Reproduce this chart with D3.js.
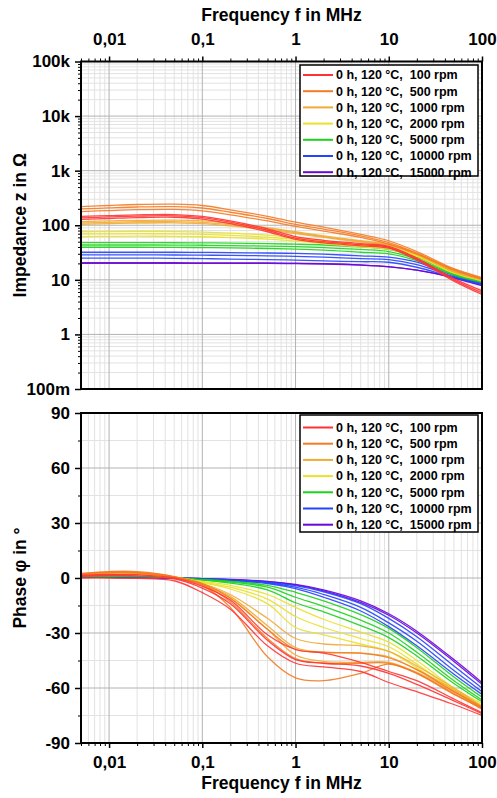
<!DOCTYPE html>
<html><head><meta charset="utf-8">
<script src="https://cdn.jsdelivr.net/npm/d3@7/dist/d3.min.js"></script>
<style>
body{margin:0;background:#fff}
text{font-family:"Liberation Sans",Arial,sans-serif;font-weight:bold;fill:#000}
</style></head><body>
<svg id="c" width="497" height="798"></svg>
<script>
// ---------- DATA ----------
const freqs = [0.005, 0.01, 0.02, 0.05, 0.1, 0.2, 0.5, 1, 2, 5, 10, 20, 50, 100];
const seriesLabels = ["0 h, 120 °C,  100 rpm","0 h, 120 °C,  500 rpm","0 h, 120 °C,  1000 rpm","0 h, 120 °C,  2000 rpm","0 h, 120 °C,  5000 rpm","0 h, 120 °C,  10000 rpm","0 h, 120 °C,  15000 rpm"];
const xTickValues = [0.01, 0.1, 1, 10, 100];
const xTickLabels = ["0,01", "0,1", "1", "10", "100"];
const zTickValues = [0.1, 1, 10, 100, 1000, 10000, 100000];
const zTickLabels = ["100m", "1", "10", "100", "1k", "10k", "100k"];
const phaseTickValues = [-90, -60, -30, 0, 30, 60, 90];
const phaseTickLabels = ["-90", "-60", "-30", "0", "30", "60", "90"];

// impedance |z| in Ohm, several measurements per speed
const z100rpm = [
  [145,150,155,157,145,120,86,62,53,46,41,25,10.5,6.3],
  [137,142,147,149,138,114,81,58,50,44,39.5,24,10,5.8],
  [128,133,138,140,130,107,76,55,47.5,42,38,23,9.5,5.4]];
const z500rpm = [
  [219,230,240,243,230,192,146,114,92,68,52,33,16,11],
  [199,208,216,219,207,173,133,104,85,64,48,31,15.5,10.6],
  [178,186,193,195,184,155,120,95,78,60,45,30,15,10.3]];
const z1000rpm = [
  [117,120,123,124,120,108,90,76,64,52,45,30,14.5,10.4],
  [110,113,116,117,113,102,86,73,62,50.5,44,29.5,14.2,10.2],
  [104,107,110,111,107,97,82,70,60,49,43,29,14,10]];
const z2000rpm = [
  [76,76.5,77,76.5,75,72,66,59,52,44,40,28,13.8,10],
  [69,69.5,70,69.5,68,65.5,60.5,55,49,42,38,27.5,13.5,9.8],
  [62,62.5,63,62.5,61.5,59.5,55.5,51,46,40,36.5,27,13.2,9.6]];
const z5000rpm = [
  [48,48,48,47.8,47.5,47,46,45,43.5,40,36,26,13,9.6],
  [43.5,43.5,43.5,43.3,43,42.5,41.5,40.5,39,36,33,24,12.6,9.3],
  [39.5,39.5,39.5,39.3,39,38.5,37.5,36.5,35,32,30,22.5,12.2,9]];
const z10000rpm = [
  [32,32,32,32,31.8,31.5,31,30.5,29.5,27.5,26,21,12,8.8],
  [28.6,28.6,28.6,28.5,28.3,28,27.5,27,26,24.5,23.5,19,11.5,8.5],
  [25,25,25,24.8,24.5,24,23.5,23,22.2,21.5,21,17,11,8.2]];
const z15000rpm = [
  [20,20,20,20,20,20,20,19.8,19.5,18.6,17.3,15,11,8],
  [20.6,20.6,20.6,20.6,20.5,20.5,20.4,20.2,19.8,18.8,17.5,15,10.8,7.8]];

// phase in degrees
const p100rpm = [
  [1.5,2,1.8,0,-4.5,-12,-31,-39,-41,-46,-51,-56,-66,-73.5],
  [1,1.5,1.2,-0.5,-5.5,-14,-34,-44.5,-46.5,-48,-52,-58,-67,-74],
  [0,0,-0.2,-1.5,-8,-17,-37,-46.5,-48.5,-51,-57,-62,-69,-75]];
const p500rpm = [
  [2.5,3.5,3.5,0.8,-4,-16,-43,-54.5,-56,-52,-47,-52,-63,-71.5],
  [2.3,3.2,3,0.6,-3.5,-13,-33,-44,-46.5,-46.5,-46.5,-52,-63.5,-71],
  [2.2,3,2.8,0.5,-3,-11,-28,-39,-40.5,-41,-43.5,-50,-62,-70.5]];
const p1000rpm = [
  [2,2.7,2.5,0.5,-3,-9,-22,-33,-36,-37,-40,-48,-60,-70],
  [2.1,2.9,2.7,0.5,-3.3,-10,-26,-38,-40.5,-41,-43,-50,-61,-70.5],
  [2.2,3,2.8,0.5,-3.6,-11,-28,-42,-45.5,-46,-46,-51.5,-62,-71]];
const p2000rpm = [
  [1.5,1.8,1.6,0.3,-1.8,-4,-9,-16,-22.5,-29.5,-35,-45,-60,-68.5],
  [1.6,2,1.8,0.3,-2.2,-5,-11.5,-21,-27,-33,-37.5,-47,-61,-69.5],
  [1.8,2.2,2,0.3,-2.6,-6,-14,-27,-31,-36,-40,-49,-62,-70]];
const p5000rpm = [
  [0.8,0.9,0.8,0.2,-0.8,-1.8,-4,-7.8,-12.5,-20,-27.5,-38,-54,-65],
  [1,1.1,1,0.2,-1,-2.2,-5,-10.5,-15.5,-23,-30,-40.5,-56,-66.5],
  [1.1,1.3,1.1,0.2,-1.2,-2.8,-6.5,-13.5,-18.5,-26,-32.5,-42.5,-57.5,-67.5]];
const p10000rpm = [
  [0.4,0.4,0.3,0,-0.4,-1,-2.2,-4.2,-7.5,-14,-22,-32,-48,-60],
  [0.5,0.5,0.4,0,-0.5,-1.2,-2.6,-5,-9,-16,-24.5,-34.5,-50.5,-62],
  [0.6,0.6,0.5,0,-0.6,-1.4,-3,-5.8,-10.5,-18,-26.5,-37,-52.5,-63.5]];
const p15000rpm = [
  [0.3,0.3,0.2,0,-0.3,-0.8,-1.8,-3.5,-6.5,-12.5,-19.5,-29,-44.5,-57],
  [0.3,0.3,0.2,0,-0.3,-0.9,-2,-3.8,-7,-13.3,-20.3,-30,-45.5,-58]];

const impedanceGroups = [z100rpm, z500rpm, z1000rpm, z2000rpm, z5000rpm, z10000rpm, z15000rpm];
const phaseGroups = [p100rpm, p500rpm, p1000rpm, p2000rpm, p5000rpm, p10000rpm, p15000rpm];

// styles (separate)
const colors = ["#ff3333","#f57a24","#f0ab35","#e9e12a","#1bd11b","#2343ff","#6a06d6"];

// ---------- CHART ----------
const svg = d3.select("#c");
const L = 81, R = 482;
const x = d3.scaleLog().domain([0.005, 100]).range([L, R]);
const yZ = d3.scaleLog().domain([0.1, 1e5]).range([389, 61.5]);
const yP = d3.scaleLinear().domain([-90, 90]).range([743, 413]);

function minorX() {
  const v = [];
  for (let d = -3; d <= 1; d++) for (let m = 2; m <= 9; m++) {
    const f = m * Math.pow(10, d);
    if (f >= 0.005 && f <= 100) v.push(f);
  }
  return v;
}
function minorLog(lo, hi) {
  const v = [];
  for (let d = Math.round(Math.log10(lo)); d < Math.round(Math.log10(hi)); d++)
    for (let m = 2; m <= 9; m++) v.push(m * Math.pow(10, d));
  return v;
}
const xMinor = minorX();

function panel(y, top, bottom, yMajor, yMinor, groups, yLabels, yTitle, clipId) {
  const g = svg.append("g");
  const grid = g.append("g");
  grid.selectAll(".vxm").data(xMinor).join("line")
    .attr("x1", d => x(d)).attr("x2", d => x(d)).attr("y1", top).attr("y2", bottom)
    .attr("stroke", "#e2e2e2").attr("stroke-width", 1);
  grid.selectAll(".hym").data(yMinor).join("line")
    .attr("x1", L).attr("x2", R).attr("y1", d => y(d)).attr("y2", d => y(d))
    .attr("stroke", "#e2e2e2").attr("stroke-width", 1);
  grid.selectAll(".vxM").data(xTickValues).join("line")
    .attr("x1", d => x(d)).attr("x2", d => x(d)).attr("y1", top).attr("y2", bottom)
    .attr("stroke", "#b2b2b2").attr("stroke-width", 1);
  grid.selectAll(".hyM").data(yMajor).join("line")
    .attr("x1", L).attr("x2", R).attr("y1", d => y(d)).attr("y2", d => y(d))
    .attr("stroke", "#b2b2b2").attr("stroke-width", 1);

  svg.append("clipPath").attr("id", clipId).append("rect")
    .attr("x", L).attr("y", top).attr("width", R - L).attr("height", bottom - top);
  const line = d3.line().x((d, i) => x(freqs[i])).y(d => y(d)).curve(d3.curveCatmullRom.alpha(0.5));
  const cg = g.append("g").attr("clip-path", `url(#${clipId})`);
  for (let k = groups.length - 1; k >= 0; k--) {
    groups[k].forEach(s => {
      cg.append("path").attr("d", line(s)).attr("fill", "none")
        .attr("stroke", colors[k]).attr("stroke-width", 1.3).attr("stroke-opacity", 0.9);
    });
  }
  const ax = g.append("g").attr("transform", `translate(${L},0)`)
    .call(d3.axisLeft(y).tickValues(yMajor).tickSize(6).tickPadding(5).tickSizeOuter(0)
      .tickFormat((d, i) => yLabels[i]));
  ax.select(".domain").remove();
  ax.selectAll("line").attr("stroke", "#000").attr("stroke-width", 1.5);
  ax.selectAll("text").style("font-size", "17px").attr("fill", "#000");
  const axm = g.append("g").attr("transform", `translate(${L},0)`)
    .call(d3.axisLeft(y).tickValues(yMinor).tickSize(3).tickFormat(""));
  axm.select(".domain").remove();
  axm.selectAll("line").attr("stroke", "#000").attr("stroke-width", 1);
  g.append("rect").attr("x", L).attr("y", top).attr("width", R - L).attr("height", bottom - top)
    .attr("fill", "none").attr("stroke", "#000").attr("stroke-width", 2);
  g.append("text").attr("transform", `translate(26,${(top + bottom) / 2}) rotate(-90)`)
    .attr("text-anchor", "middle").style("font-size", "17.5px").text(yTitle);
  return g;
}

panel(yZ, 61.5, 389, zTickValues, minorLog(0.1, 1e5), impedanceGroups, zTickLabels, "Impedance z in Ω", "clipZ");
panel(yP, 413, 743, phaseTickValues, [-75,-45,-15,15,45,75], phaseGroups, phaseTickLabels, "Phase φ in °", "clipP");

function xAxis(axisFn, yPos, padding) {
  const a = svg.append("g").attr("transform", `translate(0,${yPos})`)
    .call(axisFn(x).tickValues(xTickValues).tickSize(5).tickPadding(padding).tickSizeOuter(0)
      .tickFormat((d, i) => xTickLabels[i]));
  a.select(".domain").remove();
  a.selectAll("line").attr("stroke", "#000").attr("stroke-width", 1.5);
  a.selectAll("text").style("font-size", "17px").attr("fill", "#000");
  const m = svg.append("g").attr("transform", `translate(0,${yPos})`)
    .call(axisFn(x).tickValues(xMinor).tickSize(3).tickFormat(""));
  m.select(".domain").remove();
  m.selectAll("line").attr("stroke", "#000").attr("stroke-width", 1);
}
xAxis(d3.axisTop, 61.5, 11.5);
xAxis(d3.axisBottom, 743, 7.5);

svg.append("text").attr("x", (L + R) / 2).attr("y", 21).attr("text-anchor", "middle")
  .style("font-size", "17.5px").text("Frequency f in MHz");
svg.append("text").attr("x", (L + R) / 2).attr("y", 789).attr("text-anchor", "middle")
  .style("font-size", "17.5px").text("Frequency f in MHz");

function legend(x0, y0, w, h, firstRow) {
  const g = svg.append("g");
  g.append("rect").attr("x", x0).attr("y", y0).attr("width", w).attr("height", h)
    .attr("fill", "#fff").attr("stroke", "#000").attr("stroke-width", 1.5);
  seriesLabels.forEach((lab, i) => {
    const yy = firstRow + i * 16.2;
    g.append("line").attr("x1", x0 + 3).attr("x2", x0 + 33).attr("y1", yy).attr("y2", yy)
      .attr("stroke", colors[i]).attr("stroke-width", 2);
    g.append("text").attr("x", x0 + 36).attr("y", yy).attr("dy", "0.35em")
      .attr("xml:space", "preserve").style("white-space", "pre").style("font-size", "12.5px").text(lab);
  });
}
legend(300, 65, 178, 111, 75);
legend(300, 415, 178, 117, 427.5);
</script>
</body></html>
